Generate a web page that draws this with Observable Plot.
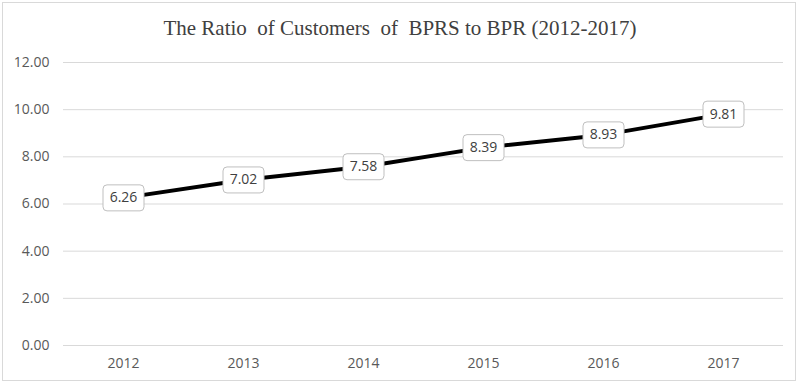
<!DOCTYPE html>
<html>
<head>
<meta charset="utf-8">
<script src="https://cdn.jsdelivr.net/npm/d3@7"></script>
<script src="https://cdn.jsdelivr.net/npm/@observablehq/plot@0.6"></script>
<style>
  html, body { margin: 0; padding: 0; background: #fff; }
  #wrap { position: relative; width: 800px; height: 385px; overflow: hidden; }
  #border { position: absolute; left: 2px; top: 2px; width: 794px; height: 379px; border: 1px solid #d9d9d9; box-sizing: border-box; }
  #title { position: absolute; left: 0; top: 16px; width: 800px; text-align: center;
           font-family: "Liberation Serif", "DejaVu Serif", serif; font-size: 21px; color: #404040; }
  #chart { position: absolute; left: 0; top: 0; }
</style>
</head>
<body>
<div id="wrap">
  <div id="border"></div>
  <div id="chart"></div>
  <div id="title">The Ratio&nbsp; of Customers&nbsp; of&nbsp; BPRS to BPR (2012-2017)</div>
</div>
<script>
const years = ["2012", "2013", "2014", "2015", "2016", "2017"];
const ratios = [6.26, 7.02, 7.58, 8.39, 8.93, 9.81];
const yTicks = [0, 2, 4, 6, 8, 10, 12];

const data = years.map((y, i) => ({year: y, value: ratios[i]}));

const boxSymbol = {
  draw(context) {
    const w = 41, h = 26, r = 4;
    const x0 = -w / 2, y0 = -h / 2, x1 = w / 2, y1 = h / 2;
    context.moveTo(x0 + r, y0);
    context.lineTo(x1 - r, y0);
    context.arcTo(x1, y0, x1, y0 + r, r);
    context.lineTo(x1, y1 - r);
    context.arcTo(x1, y1, x1 - r, y1, r);
    context.lineTo(x0 + r, y1);
    context.arcTo(x0, y1, x0, y1 - r, r);
    context.lineTo(x0, y0 + r);
    context.arcTo(x0, y0, x0 + r, y0, r);
    context.closePath();
  }
};

const chart = Plot.plot({
  width: 800,
  height: 385,
  marginTop: 62,
  marginBottom: 40,
  marginLeft: 63,
  marginRight: 17,
  style: {fontFamily: "'Open Sans', 'Liberation Sans', sans-serif", fontSize: "14px", color: "#595959", background: "transparent"},
  x: {type: "point", domain: years, padding: 0.5, label: null, tickSize: 0, tickPadding: 13},
  y: {domain: [0, 12], ticks: yTicks, tickFormat: d => d.toFixed(2), label: null, tickSize: 0, tickPadding: 14},
  marks: [
    Plot.ruleY(yTicks, {stroke: "#d9d9d9", strokeWidth: 1}),
    Plot.line(data, {x: "year", y: "value", stroke: "#000", strokeWidth: 4}),
    Plot.dot(data, {x: "year", y: "value", symbol: boxSymbol, fill: "#fff", stroke: "#bfbfbf", strokeWidth: 1, r: 10}),
    Plot.text(data, {x: "year", y: "value", text: d => d.value.toFixed(2), fill: "#404040", fontSize: 14})
  ]
});
document.getElementById("chart").appendChild(chart);
</script>
</body>
</html>
